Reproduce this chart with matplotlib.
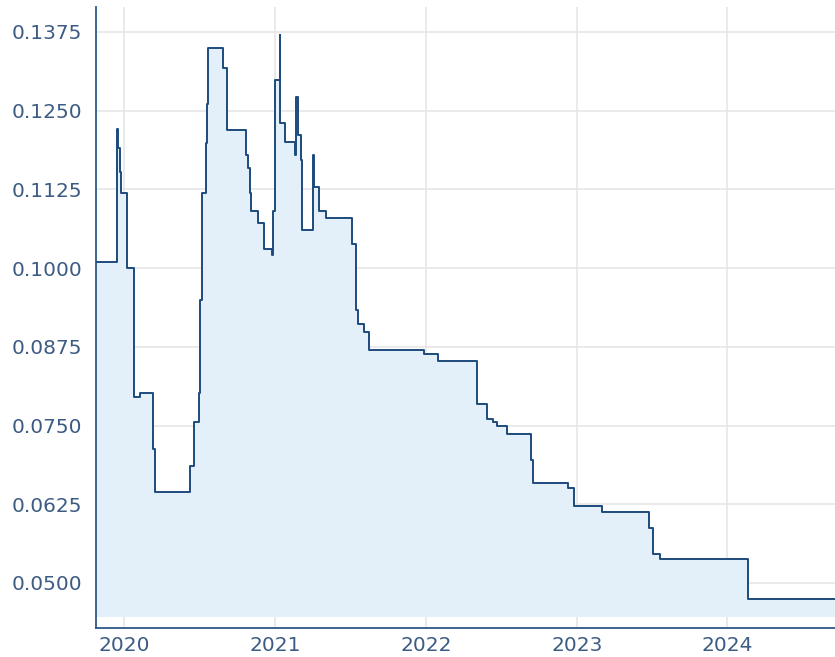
import numpy as np
import pandas as pd
import matplotlib
matplotlib.use('Agg')
import matplotlib.pyplot as plt
import matplotlib.dates as mdates

# step data
dates = ['2019-10-24', '2019-12-14', '2019-12-17', '2019-12-20', '2019-12-23',
         '2020-01-08', '2020-01-25', '2020-02-08', '2020-03-09', '2020-03-16',
         '2020-06-07', '2020-06-17', '2020-06-29', '2020-07-02', '2020-07-08',
         '2020-07-16', '2020-07-19', '2020-07-21', '2020-08-27', '2020-09-06',
         '2020-10-21', '2020-10-26', '2020-11-01', '2020-11-02', '2020-11-19',
         '2020-12-03', '2020-12-23', '2020-12-27', '2020-12-31', '2021-01-11',
         '2021-01-13', '2021-01-23', '2021-02-17', '2021-02-20', '2021-02-24',
         '2021-03-03', '2021-03-06', '2021-04-01', '2021-04-05', '2021-04-16',
         '2021-05-03', '2021-07-05', '2021-07-14', '2021-07-21', '2021-08-03',
         '2021-08-15', '2021-12-28', '2022-01-31', '2022-05-05', '2022-05-29',
         '2022-06-13', '2022-06-22', '2022-07-16', '2022-09-13', '2022-09-18',
         '2022-12-11', '2022-12-26', '2023-03-04', '2023-06-26', '2023-07-06',
         '2023-07-23', '2024-02-20', '2024-09-18']
values = [0.1010, 0.1221, 0.1190, 0.1152, 0.1120,
          0.1000, 0.0795, 0.0801, 0.0712, 0.0644,
          0.0685, 0.0756, 0.0801, 0.0949, 0.1119,
          0.1199, 0.1260, 0.1349, 0.1318, 0.1220,
          0.1180, 0.1159, 0.1120, 0.1090, 0.1071,
          0.1030, 0.1021, 0.1090, 0.1299, 0.1370,
          0.1231, 0.1201, 0.1180, 0.1272, 0.1212,
          0.1172, 0.1061, 0.1180, 0.1129, 0.1090,
          0.1080, 0.1038, 0.0933, 0.0911, 0.0898,
          0.0870, 0.0864, 0.0853, 0.0785, 0.0760,
          0.0755, 0.0749, 0.0737, 0.0696, 0.0658,
          0.0651, 0.0623, 0.0613, 0.0588, 0.0546,
          0.0538, 0.0475, 0.0475]
y_ticks = [0.05, 0.0625, 0.075, 0.0875, 0.1, 0.1125, 0.125, 0.1375]
x_ticks = ['2020-01-01', '2021-01-01', '2022-01-01', '2023-01-01', '2024-01-01']

x = pd.to_datetime(dates)
y = np.array(values)

line_col = '#1d4b7d'
axis_col = '#2d5886'
text_col = '#3d5c84'

fig = plt.figure(figsize=(8.35, 6.57), dpi=100)
ax = fig.add_axes([96/835, 1 - 628/657, 1 - 96/835, (628 - 7)/657])

ax.fill_between(x, y, 0.0446, step='post', color='#e3eff9', lw=0, zorder=1)
ax.plot(x, y, drawstyle='steps-post', color=line_col, lw=1.4, zorder=3)

ax.set_xlim(pd.Timestamp('2019-10-24'), pd.Timestamp('2024-09-18'))
ax.set_ylim(0.04285, 0.14147)
ax.set_yticks(y_ticks)
ax.set_yticklabels(['%.4f' % v for v in y_ticks])
ax.set_xticks(pd.to_datetime(x_ticks))
ax.xaxis.set_major_formatter(mdates.DateFormatter('%Y'))

ax.grid(True, color='#e6e6e6', lw=1.2, zorder=0)
ax.set_axisbelow(True)
for s in ['top', 'right']:
    ax.spines[s].set_visible(False)
for s in ['left', 'bottom']:
    ax.spines[s].set_color(axis_col)
    ax.spines[s].set_linewidth(1.3)
ax.tick_params(axis='both', length=0, labelsize=14.5, labelcolor=text_col)
ax.tick_params(axis='y', pad=10)
ax.tick_params(axis='x', pad=6)

fig.savefig('out.png', dpi=100)
